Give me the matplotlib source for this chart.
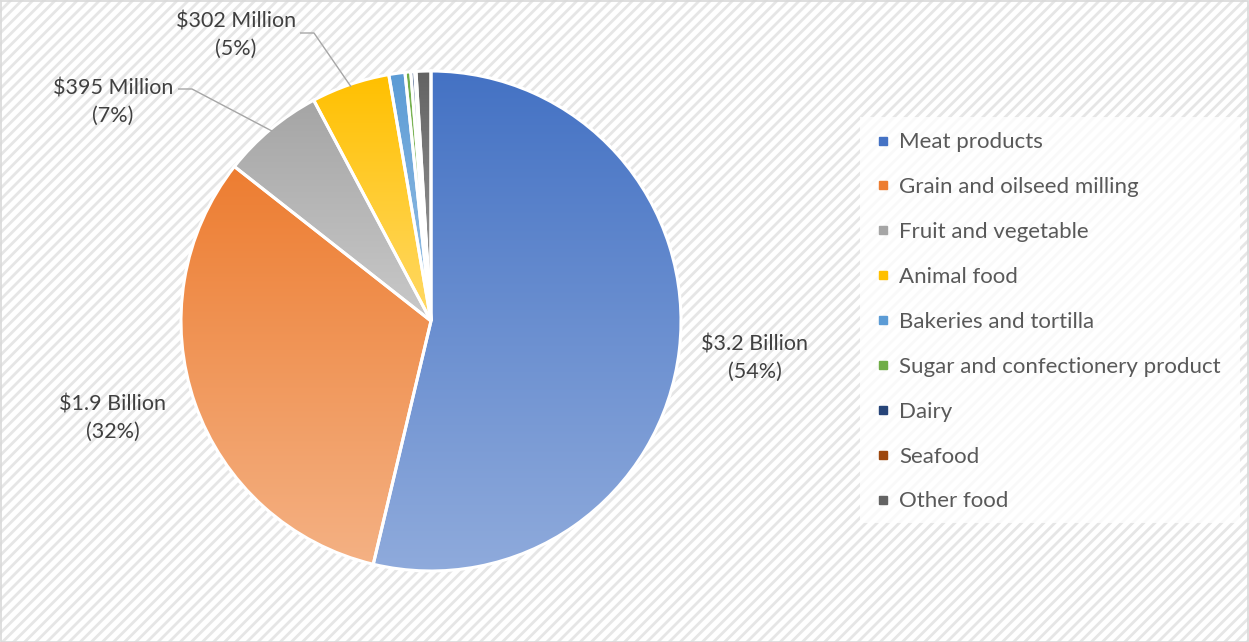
import numpy as np
import matplotlib
matplotlib.use("Agg")
import matplotlib.pyplot as plt
from matplotlib.colors import to_rgb
from matplotlib.lines import Line2D
from matplotlib.patches import Rectangle

categories = ["Meat products", "Grain and oilseed milling", "Fruit and vegetable",
              "Animal food", "Bakeries and tortilla", "Sugar and confectionery product",
              "Dairy", "Seafood", "Other food"]
values_musd = [3200, 1900, 395, 302, 62, 22, 15, 5, 57]
label_text = {0: "$3.2 Billion\n(54%)", 1: "$1.9 Billion\n(32%)",
              2: "$395 Million\n(7%)", 3: "$302 Million\n(5%)"}
colors = ["#4472C4", "#ED7D31", "#A5A5A5", "#FFC000", "#5B9BD5",
          "#70AD47", "#264478", "#9E480E", "#636363"]

plt.rcParams['font.family'] = ['Lato', 'DejaVu Sans']
plt.rcParams['hatch.linewidth'] = 2.0

W, H = 1249, 642
fig = plt.figure(figsize=(W / 100, H / 100), dpi=100)
ax = fig.add_axes([0, 0, 1, 1])

# hatched background
ax.add_patch(Rectangle((0, 0), W, H, facecolor='white', edgecolor='#e6e6e6', hatch='///',
                       linewidth=0, zorder=-5))
ax.add_patch(Rectangle((0.5, 0.5), W - 1, H - 1, facecolor='none', edgecolor='#d9d9d9',
                       linewidth=1.2, zorder=10))

cx, cy, R = 431, 321, 250
wedges, _ = ax.pie(values_musd, colors=colors, startangle=90, counterclock=False,
                   center=(cx, cy), radius=R, frame=True,
                   wedgeprops=dict(edgecolor='white', linewidth=2.2))


def tint(c, t):
    return np.array([x + (1 - x) * t for x in to_rgb(c)])


for w, c in zip(wedges, colors):
    w.set_facecolor('none')
    w.set_zorder(3)
    ext = w.get_path().get_extents()
    top = tint(c, 0.0)
    bot = tint(c, 0.4)
    s = np.linspace(0, 1, 256)[:, None]
    grad = (top[None, :] * (1 - s) + bot[None, :] * s)[:, None, :]
    im = ax.imshow(grad, extent=(ext.x0, ext.x1, ext.y0, ext.y1), origin='upper',
                   aspect='auto', zorder=2, interpolation='bilinear')
    im.set_clip_path(w)

ax.set_xlim(0, W)
ax.set_ylim(0, H)
ax.set_aspect('auto')
ax.axis('off')

txtc = '#404040'
fs = 15.5
for idx, (tx, ty) in {0: (755, 358), 1: (113, 418), 2: (113, 102), 3: (236, 35)}.items():
    ax.text(tx, H - ty, label_text[idx], ha='center', va='center', fontsize=fs,
            color=txtc, linespacing=1.45)


def edge_point(w, frac=0.99):
    ang = np.deg2rad((w.theta1 + w.theta2) / 2)
    return cx + R * frac * np.cos(ang), cy + R * frac * np.sin(ang)


for idx, (sx, sy) in {2: (178, H - 89), 3: (300, H - 33)}.items():
    ex, ey = edge_point(wedges[idx])
    ax.plot([sx, sx + 14, ex], [sy, sy, ey], color='#a6a6a6', lw=1.0, zorder=4,
            solid_capstyle='butt')

# legend box
ax.add_patch(Rectangle((860, H - 523), 380, 406, facecolor='white', alpha=0.8,
                       edgecolor='none', zorder=4))
lfs = 16
handles = [Line2D([], [], marker='s', linestyle='none', markersize=6,
                  markerfacecolor=c, markeredgecolor=c) for c in colors]
leg = ax.legend(handles, categories, loc='upper left',
                bbox_to_anchor=(860 / W, 1 - 117 / H), bbox_transform=fig.transFigure,
                fontsize=lfs, labelcolor='#595959', frameon=False,
                borderpad=0.69, labelspacing=1.12, handlelength=0.7, handletextpad=0.37,
                borderaxespad=0)
leg.set_zorder(5)

fig.savefig('out.png', dpi=100)
